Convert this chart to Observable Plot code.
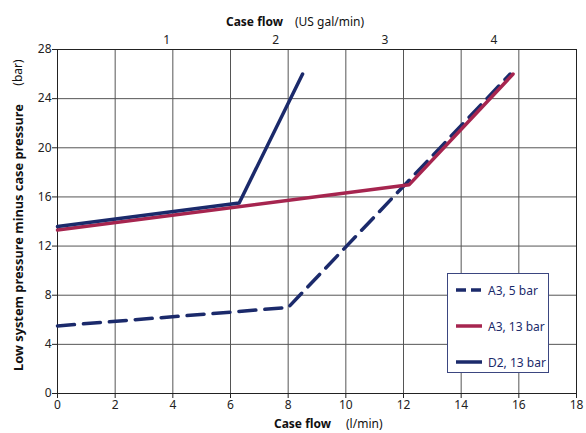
<!DOCTYPE html>
<html><head><meta charset="utf-8">
<script src="https://cdn.jsdelivr.net/npm/d3@7"></script>
<script src="https://cdn.jsdelivr.net/npm/@observablehq/plot@0.6"></script>
<style>
body{margin:0;background:#fff;font-family:"Noto Sans",sans-serif}
#wrap{position:relative;width:586px;height:433px}
#legend{position:absolute;left:447px;top:273px;width:102px;height:100px;border:1px solid #3b4680;background:#fff;box-sizing:border-box}
.li{position:absolute;left:8px;height:16px;display:flex;align-items:center;font-size:12px;color:#1b2a6b;white-space:nowrap}
.li svg{margin-right:6px}
</style></head><body><div id="wrap"></div>
<script>
const xTicks = [0,2,4,6,8,10,12,14,16,18];
const yTicks = [0,4,8,12,16,20,24,28];
const galTicks = [1,2,3,4];
const litresPerGal = 3.785;
const seriesNames = ["A3, 5 bar","A3, 13 bar","D2, 13 bar"];
const seriesColors = ["#1b2a6b","#a6254f","#1b2a6b"];
const a35Flow = [0, 8.0, 15.7];
const a35Press = [5.5, 7.0, 26.0];
const a313Flow = [0, 12.2, 15.8];
const a313Press = [13.3, 17.0, 26.0];
const d213Flow = [0, 6.3, 8.5];
const d213Press = [13.6, 15.5, 26.0];

const mk = (xs, ys) => xs.map((x,i)=>({x, y: ys[i]}));
const navy = seriesColors[0], crimson = seriesColors[1];

const plot = Plot.plot({
  width:586, height:433,
  marginLeft:57, marginRight:10, marginTop:49, marginBottom:40,
  style:{fontFamily:"Noto Sans", fontSize:"12px", color:"#222", background:"#fff"},
  x:{domain:[0,18]}, y:{domain:[0,28]},
  marks:[
    Plot.gridX(xTicks,{stroke:"#555", strokeOpacity:1}),
    Plot.gridY(yTicks,{stroke:"#555", strokeOpacity:1}),
    Plot.frame({stroke:"#222"}),
    Plot.axisX(xTicks,{tickSize:5, tickPadding:2, label:null, stroke:"#222"}),
    Plot.axisX(galTicks.map(g=>g*litresPerGal),{anchor:"top", tickSize:0, tickPadding:6, label:null, tickFormat:d=>String(Math.round(d/litresPerGal))}),
    Plot.axisY(yTicks,{tickSize:5, tickPadding:1, label:null, stroke:"#222"}),
    Plot.line(mk(a35Flow,a35Press),{x:"x",y:"y",stroke:navy,strokeWidth:3.5,strokeDasharray:"17,9"}),
    Plot.line(mk(a313Flow,a313Press),{x:"x",y:"y",stroke:crimson,strokeWidth:3.5}),
    Plot.line(mk(d213Flow,d213Press),{x:"x",y:"y",stroke:navy,strokeWidth:3.5}),
    Plot.text(["Case flow"],{frameAnchor:"bottom", dy:34, dx:14, textAnchor:"end", fontWeight:"bold", fill:"#111"}),
    Plot.text(["(l/min)"],{frameAnchor:"bottom", dy:34, dx:29, textAnchor:"start", fill:"#111"}),
    Plot.text(["Case flow"],{frameAnchor:"top", dy:-32, dx:-34, textAnchor:"end", fontWeight:"bold", fill:"#111"}),
    Plot.text(["(US gal/min)"],{frameAnchor:"top", dy:-32, dx:-22, textAnchor:"start", fill:"#111"}),
    Plot.text(["Low system pressure minus case pressure"],{frameAnchor:"left", dx:-39, dy:16, rotate:-90, textAnchor:"middle", fontWeight:"bold", fontSize:12.8, fill:"#111"}),
    Plot.text(["(bar)"],{frameAnchor:"left", dx:-39, dy:-149, rotate:-90, textAnchor:"middle", fill:"#111"})
  ]
});
const wrap = document.getElementById("wrap");
wrap.appendChild(plot);
const leg = document.createElement("div");
leg.id = "legend";
const tops = [8, 44, 80];
seriesNames.forEach((n,i)=>{
  const d = document.createElement("div");
  d.className = "li";
  d.style.top = tops[i] + "px";
  const dash = i===0 ? 'stroke-dasharray="10,5"' : '';
  d.innerHTML = `<svg width="26" height="6"><line x1="0" y1="3" x2="26" y2="3" stroke="${seriesColors[i]}" stroke-width="3.5" ${dash}/></svg><span>${n}</span>`;
  leg.appendChild(d);
});
wrap.appendChild(leg);
</script></body></html>
